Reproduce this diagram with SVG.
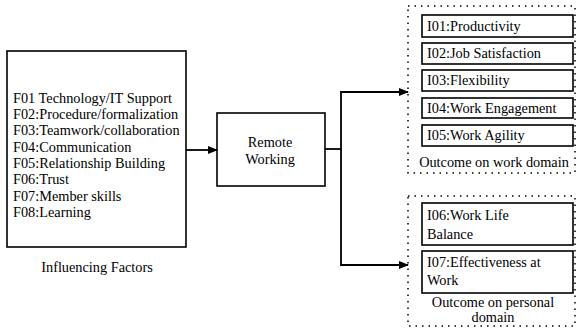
<svg xmlns="http://www.w3.org/2000/svg" width="577" height="336" viewBox="0 0 577 336">
<style>
.box{fill:#fff;stroke:#000;stroke-width:1.6}
.dot{fill:none;stroke:#000;stroke-width:1.5;stroke-dasharray:1.5 5}
.ln{fill:none;stroke:#000;stroke-width:1.8}
.c{text-anchor:middle}
</style>
<defs>
<marker id="ah" markerWidth="10" markerHeight="8" refX="9" refY="4" orient="auto" markerUnits="userSpaceOnUse">
<path d="M0,0 L10,4 L0,8 Z" fill="#000"/>
</marker>
</defs>
<rect width="577" height="336" fill="#fff"/>
<g id="factors" font-family="Liberation Serif" font-size="14.3" fill="#000">
<rect class="box" x="7" y="51" width="179" height="196"/>
<text x="13" y="103">F01 Technology/IT Support</text>
<text x="13" y="119">F02:Procedure/formalization</text>
<text x="13" y="135">F03:Teamwork/collaboration</text>
<text x="13" y="152">F04:Communication</text>
<text x="13" y="168">F05:Relationship Building</text>
<text x="13" y="184">F06:Trust</text>
<text x="13" y="201">F07:Member skills</text>
<text x="13" y="217">F08:Learning</text>
<text class="c" x="97" y="272">Influencing Factors</text>
</g>
<g id="remote" font-family="Liberation Serif" font-size="14.3" fill="#000">
<rect class="box" x="217" y="113" width="108" height="73"/>
<text class="c" x="270" y="147">Remote</text>
<text class="c" x="270" y="164">Working</text>
</g>
<g id="work-domain" font-family="Liberation Serif" font-size="14.3" fill="#000">
<rect class="dot" x="408" y="6" width="167" height="167"/>
<rect class="box" x="422" y="15" width="151" height="22"/>
<text x="427" y="31">I01:Productivity</text>
<rect class="box" x="422" y="43" width="151" height="21"/>
<text x="427" y="58">I02:Job Satisfaction</text>
<rect class="box" x="422" y="70" width="151" height="21"/>
<text x="427" y="85">I03:Flexibility</text>
<rect class="box" x="422" y="98" width="151" height="20"/>
<text x="427" y="113">I04:Work Engagement</text>
<rect class="box" x="422" y="125" width="151" height="21"/>
<text x="427" y="140">I05:Work Agility</text>
<text class="c" x="494" y="167">Outcome on work domain</text>
</g>
<g id="personal-domain" font-family="Liberation Serif" font-size="14.3" fill="#000">
<rect class="dot" x="408" y="196" width="167" height="130"/>
<rect class="box" x="422" y="203" width="151" height="42"/>
<text x="427" y="220">I06:Work Life</text>
<text x="427" y="239">Balance</text>
<rect class="box" x="422" y="251" width="151" height="42"/>
<text x="427" y="267">I07:Effectiveness at</text>
<text x="427" y="285">Work</text>
<text class="c" x="493" y="307">Outcome on personal</text>
<text class="c" x="493" y="322">domain</text>
</g>
<g id="connectors">
<line class="ln" x1="186" y1="150" x2="217" y2="150" marker-end="url(#ah)"/>
<line class="ln" x1="325" y1="149" x2="341" y2="149"/>
<polyline class="ln" points="408,92 341,92 341,265 408,265" marker-end="url(#ah)"/>
<polyline class="ln" points="341,92 408,92" marker-end="url(#ah)"/>
</g>
</svg>
